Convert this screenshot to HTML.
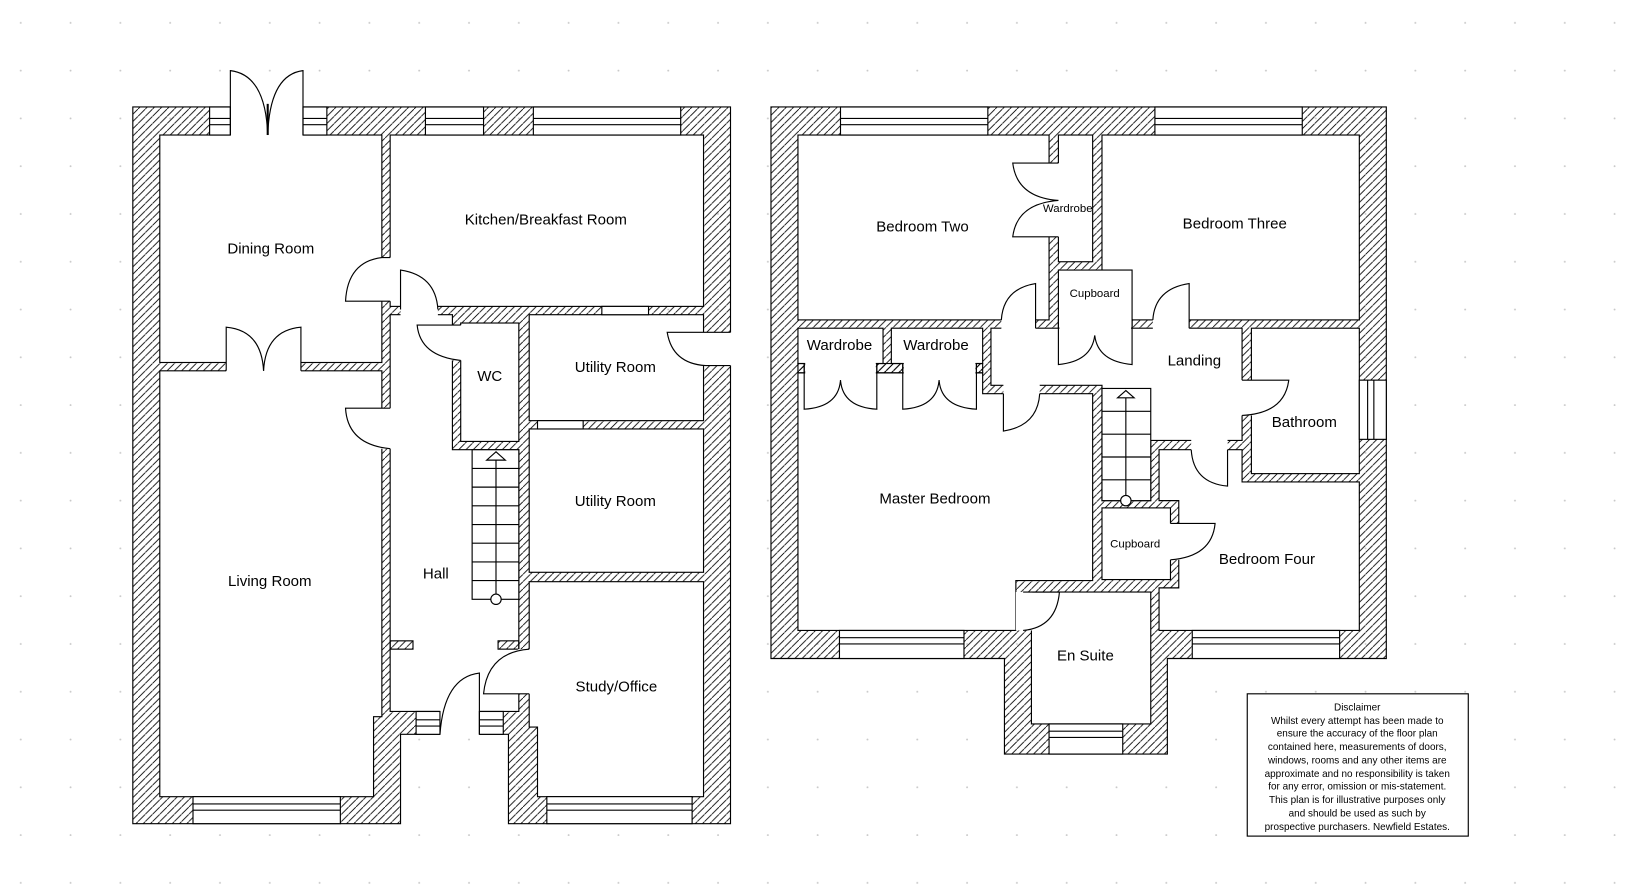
<!DOCTYPE html>
<html><head><meta charset="utf-8"><style>
html,body{margin:0;padding:0;background:#fff;}
svg{display:block;}
text{font-family:"Liberation Sans",Arial,sans-serif;fill:#000;}
</style></head><body>
<svg width="1626" height="887" viewBox="0 0 1567 854" preserveAspectRatio="none" xmlns="http://www.w3.org/2000/svg">
<defs>
<pattern id="h" patternUnits="userSpaceOnUse" width="7" height="7">
<line x1="-1" y1="8" x2="8" y2="-1" stroke="#000" stroke-width="0.8"/>
</pattern>
<pattern id="g" patternUnits="userSpaceOnUse" width="48" height="46" x="18" y="20">
<circle cx="2" cy="2" r="0.9" fill="#c8c8c8"/>
</pattern>
</defs>
<rect width="1567" height="854" fill="#fff"/>
<rect width="1567" height="854" fill="url(#g)"/>

<g stroke="#000" stroke-width="1.1" fill="none">
<polygon points="128,103 704,103 704,793 490,793 490,707 386,707 386,793 128,793" fill="url(#h)"/>
<g fill="#fff">
<rect x="154" y="130" width="214" height="219"/>
<polygon points="154,357 368,357 368,690 360,690 360,767 154,767"/>
<rect x="376" y="130" width="302" height="165"/>
<polygon points="376,303 436,303 436,433 500,433 500,685 376,685"/>
<rect x="444" y="311" width="56" height="114"/>
<rect x="510" y="303" width="168" height="102"/>
<rect x="510" y="413" width="168" height="138"/>
<polygon points="510,560 678,560 678,767 518,767 518,700 510,700"/>
</g>
<rect x="376" y="617" width="22" height="8" fill="url(#h)"/>
<rect x="480" y="617" width="20" height="8" fill="url(#h)"/>
<g fill="#fff" stroke="none">
<rect x="222" y="102" width="70" height="29"/>
<rect x="218" y="348" width="72" height="10"/>
<rect x="367" y="248" width="10" height="42"/>
<rect x="386" y="294" width="36" height="10"/>
<rect x="367" y="393" width="10" height="39"/>
<rect x="435" y="313" width="10" height="34"/>
<rect x="677" y="320" width="28" height="32"/>
<rect x="499" y="625" width="12" height="43"/>
<rect x="424" y="684" width="38" height="24"/>
</g>
<g fill="#fff">
<rect x="580" y="295" width="45" height="8"/>
<rect x="518" y="405" width="44" height="8"/>
</g>
<g fill="#fff">
<rect x="202" y="103" width="20" height="27"/><line x1="202" y1="114" x2="222" y2="114"/><line x1="202" y1="120" x2="222" y2="120"/>
<rect x="292" y="103" width="23" height="27"/><line x1="292" y1="114" x2="315" y2="114"/><line x1="292" y1="120" x2="315" y2="120"/>
<rect x="410" y="103" width="56" height="27"/><line x1="410" y1="114" x2="466" y2="114"/><line x1="410" y1="120" x2="466" y2="120"/>
<rect x="514" y="103" width="142" height="27"/><line x1="514" y1="114" x2="656" y2="114"/><line x1="514" y1="120" x2="656" y2="120"/>
<rect x="186" y="767" width="142" height="26"/><line x1="186" y1="774" x2="328" y2="774"/><line x1="186" y1="780" x2="328" y2="780"/>
<rect x="527" y="767" width="140" height="26"/><line x1="527" y1="774" x2="667" y2="774"/><line x1="527" y1="780" x2="667" y2="780"/>
<rect x="401" y="685" width="23" height="22"/><line x1="401" y1="693" x2="424" y2="693"/><line x1="401" y1="699" x2="424" y2="699"/>
<rect x="462" y="685" width="23" height="22"/><line x1="462" y1="693" x2="485" y2="693"/><line x1="462" y1="699" x2="485" y2="699"/>
</g>
<path d="M222,130 L222,68 Q256,72 258,130"/>
<path d="M292,130 L292,68 Q260,72 258,130"/>
<line x1="258" y1="100" x2="258" y2="130" stroke-width="2"/>
<path d="M218,357 L218,315 Q252,318 254,357"/>
<path d="M290,357 L290,315 Q256,318 254,357"/>
<path d="M376,248 L368,248 Q335,252 333,290 L376,290"/>
<path d="M386,298 L386,260 Q420,265 422,298"/>
<path d="M376,393 L333,393 Q335,428 376,432"/>
<path d="M444,313 L402,313 Q405,343 444,347"/>
<path d="M704,320 L643,320 Q648,350 680,352 L704,352"/>
<path d="M510,668 L466,668 Q470,628 510,625"/>
<path d="M462,707 L462,648 Q428,652 424,707"/>
<rect x="455" y="433" width="45" height="144" fill="#fff"/>
<g>
<line x1="455" y1="451" x2="500" y2="451"/><line x1="455" y1="469" x2="500" y2="469"/>
<line x1="455" y1="487" x2="500" y2="487"/><line x1="455" y1="505" x2="500" y2="505"/>
<line x1="455" y1="523" x2="500" y2="523"/><line x1="455" y1="541" x2="500" y2="541"/>
<line x1="455" y1="559" x2="500" y2="559"/>
<line x1="478" y1="436" x2="478" y2="572"/>
<polygon points="478,435 469,443 487,443" fill="#fff"/>
<circle cx="478" cy="577" r="5" fill="#fff"/>
</g>

<polygon points="743,103 1336,103 1336,634 1125,634 1125,726 968,726 968,634 743,634" fill="url(#h)"/>
<g fill="#fff">
<rect x="769" y="130" width="242" height="178"/>
<rect x="1020" y="130" width="33" height="122"/>
<rect x="1062" y="130" width="248" height="178"/>
<rect x="1020" y="260" width="71" height="56"/>
<rect x="769" y="316" width="82" height="34"/>
<rect x="859" y="316" width="88" height="34"/>
<polygon points="769,359 947,359 947,379 1053,379 1053,559 979,559 979,607 769,607"/>
<polygon points="955,316 1197,316 1197,424 1109,424 1109,482 1062,482 1062,371 955,371"/>
<rect x="1206" y="316" width="104" height="140"/>
<polygon points="1117,433 1197,433 1197,464 1310,464 1310,607 1117,607 1117,566 1136,566 1136,482 1117,482"/>
<rect x="1062" y="489" width="66" height="69"/>
<rect x="994" y="570" width="115" height="127"/>
</g>
<g fill="url(#h)">
<rect x="769" y="350" width="6" height="9"/>
<rect x="845" y="350" width="25" height="9"/>
<rect x="941" y="350" width="6" height="9"/>
</g>
<g fill="#fff" stroke="none">
<rect x="776" y="349" width="68" height="11"/>
<rect x="871" y="349" width="69" height="11"/>
<rect x="1010" y="157" width="11" height="71"/>
<rect x="965" y="306" width="33" height="11"/>
<rect x="1021" y="306" width="69" height="11"/>
<rect x="1111" y="306" width="35" height="11"/>
<rect x="967" y="369" width="35" height="11"/>
<rect x="1196" y="366" width="11" height="34"/>
<rect x="1148" y="422" width="35" height="12"/>
<rect x="1127" y="504" width="10" height="35"/>
<rect x="979" y="570" width="16" height="37"/>
</g>
<g fill="#fff">
<rect x="810" y="103" width="142" height="27"/><line x1="810" y1="114" x2="952" y2="114"/><line x1="810" y1="120" x2="952" y2="120"/>
<rect x="1113" y="103" width="142" height="27"/><line x1="1113" y1="114" x2="1255" y2="114"/><line x1="1113" y1="120" x2="1255" y2="120"/>
<rect x="809" y="607" width="120" height="27"/><line x1="809" y1="614" x2="929" y2="614"/><line x1="809" y1="620" x2="929" y2="620"/>
<rect x="1149" y="607" width="142" height="27"/><line x1="1149" y1="614" x2="1291" y2="614"/><line x1="1149" y1="620" x2="1291" y2="620"/>
<rect x="1011" y="697" width="71" height="29"/><line x1="1011" y1="704" x2="1082" y2="704"/><line x1="1011" y1="710" x2="1082" y2="710"/>
<rect x="1310" y="366" width="26" height="57"/><line x1="1318" y1="366" x2="1318" y2="423"/><line x1="1324" y1="366" x2="1324" y2="423"/>
</g>
<path d="M1020,157 L976,157 Q980,190 1020,193"/>
<path d="M1020,228 L976,228 Q980,196 1020,193"/>
<path d="M998,316 L998,273 Q967,278 965,308"/>
<path d="M1020,307 L1020,351 Q1052,348 1055,323"/>
<path d="M1091,307 L1091,351 Q1058,348 1055,323"/>
<path d="M1146,316 L1146,273 Q1113,278 1111,308"/>
<path d="M775,350 L775,394 Q808,392 810,366"/>
<path d="M845,350 L845,394 Q812,392 810,366"/>
<path d="M870,350 L870,394 Q903,392 905,366"/>
<path d="M941,350 L941,394 Q907,392 905,366"/>
<path d="M967,379 L967,415 Q1000,410 1002,379"/>
<path d="M1197,366 L1242,366 Q1238,398 1197,400"/>
<path d="M1183,433 L1183,468 Q1150,465 1148,433"/>
<path d="M1128,504 L1171,504 Q1168,536 1128,539"/>
<path d="M986,570 L1021,570 Q1018,604 986,607"/>
<rect x="1062" y="374" width="47" height="108" fill="#fff"/>
<line x1="1062" y1="396" x2="1109" y2="396"/><line x1="1062" y1="418" x2="1109" y2="418"/>
<line x1="1062" y1="440" x2="1109" y2="440"/><line x1="1062" y1="462" x2="1109" y2="462"/>
<line x1="1085" y1="377" x2="1085" y2="477"/>
<polygon points="1085,376 1077,383 1093,383" fill="#fff"/>
<circle cx="1085" cy="482" r="5" fill="#fff"/>

<rect x="1202" y="668" width="213" height="137" fill="#fff"/>
</g>

<g font-size="14.5" text-anchor="middle">
<text x="261" y="244">Dining Room</text>
<text x="526" y="216">Kitchen/Breakfast Room</text>
<text x="472" y="367">WC</text>
<text x="593" y="358">Utility Room</text>
<text x="593" y="487">Utility Room</text>
<text x="260" y="564">Living Room</text>
<text x="420" y="557">Hall</text>
<text x="594" y="666">Study/Office</text>
<text x="889" y="223">Bedroom Two</text>
<text x="1190" y="220">Bedroom Three</text>
<text x="809" y="337">Wardrobe</text>
<text x="902" y="337">Wardrobe</text>
<text x="1151" y="352">Landing</text>
<text x="1257" y="411">Bathroom</text>
<text x="901" y="485">Master Bedroom</text>
<text x="1221" y="543">Bedroom Four</text>
<text x="1046" y="636">En Suite</text>
</g>
<g font-size="11" text-anchor="middle">
<text x="1029" y="204">Wardrobe</text>
<text x="1055" y="286">Cupboard</text>
<text x="1094" y="527">Cupboard</text>
</g>
<g font-size="9.6" text-anchor="middle">
<text x="1308" y="684">Disclaimer</text>
<text x="1308" y="697">Whilst every attempt has been made to</text>
<text x="1308" y="709">ensure the accuracy of the floor plan</text>
<text x="1308" y="722">contained here, measurements of doors,</text>
<text x="1308" y="735">windows, rooms and any other items are</text>
<text x="1308" y="748">approximate and no responsibility is taken</text>
<text x="1308" y="760">for any error, omission or mis-statement.</text>
<text x="1308" y="773">This plan is for illustrative purposes only</text>
<text x="1308" y="786">and should be used as such by</text>
<text x="1308" y="799">prospective purchasers. Newfield Estates.</text>
</g>
</svg>
</body></html>
